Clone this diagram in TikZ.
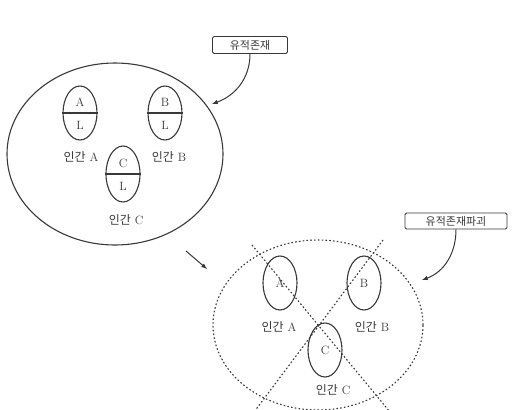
\documentclass[tikz,border=0pt]{standalone}
\usepackage{fontspec}
\usepackage{tikz}
\usetikzlibrary{shapes,arrows}
\usetikzlibrary{calc}
\newfontfamily\kr{Noto Sans CJK KR}
\definecolor{ink}{gray}{0.22}
\tikzset{
  person/.style={draw=ink,line width=1.1pt,ellipse,inner sep=0pt,minimum width=34pt,minimum height=54pt},
  world/.style={draw=ink,line width=1.1pt,ellipse,inner sep=0pt},
  broke/.style={line width=1.1pt,dash pattern=on 1.6pt off 2.2pt},
  tag/.style={draw=ink,line width=0.9pt,rounded corners=1.5pt,inner sep=0pt,font=\kr\fontsize{11}{13}\selectfont,text=ink},
  who/.style={font=\fontsize{12}{14}\selectfont,text=ink},
  letter/.style={font=\fontsize{12}{14}\selectfont,text=ink},
  pointer/.style={draw=ink,line width=1pt,-latex},
}

\begin{document}
\begin{tikzpicture}[x=1pt,y=-1pt]
        \useasboundingbox (0,0) rectangle (531,410);
        % before
        \node[world, minimum width=216pt, minimum height=182pt] (whole) at (115,154) {};
        \node[person] (pA) at (80,113) {};
        \node[person] (pB) at (165,113) {};
        \node[person, minimum height=56pt] (pC) at (123,174) {};
        \foreach \p/\l in {pA/A,pB/B,pC/C} {
            \draw[ink, line width=1.1pt] (\p.west) -- (\p.east);
            \node[letter] at ($(\p.center)+(0,-11)$) {\l};
            \node[letter] at ($(\p.center)+(0,12)$) {L};
        }
        \node[who] (nA) at (81,157) {{\kr 인간} A};
        \node[who] (nB) at (169,157) {{\kr 인간} B};
        \node[who] (nC) at (126,220) {{\kr 인간} C};
        \node[tag, minimum width=75pt, minimum height=17pt] (t1) at (250,45) {유적존재};
        \coordinate (h1) at (212,104);
        \draw[pointer] (t1.south) to[out=-90,in=20] (h1);

        % step
        \coordinate (s0) at (186,251);
        \coordinate (s1) at (207,269);
        \draw[pointer] (s0) -- (s1);

        % after
        \node[world, broke, minimum width=210pt, minimum height=170pt] (broken) at (318,325) {};
        \node[person] (qA) at (280,283) {};
        \node[person] (qB) at (364,283) {};
        \node[person] (qC) at (325,350) {};
        \node[letter] at (qA) {A};
        \node[letter] at (qB) {B};
        \node[letter] at (qC) {C};
        \coordinate (c1) at (252,245);
        \coordinate (c2) at (390,412);
        \coordinate (c3) at (383,240);
        \coordinate (c4) at (254,412);
        \draw[ink, broke] (c1) -- (c2);
        \draw[ink, broke] (c3) -- (c4);
        \node[who] (mA) at (279,327) {{\kr 인간} A};
        \node[who] (mB) at (372,327) {{\kr 인간} B};
        \node[who] (mC) at (333,390) {{\kr 인간} C};
        \node[tag, minimum width=102pt, minimum height=16pt] (t2) at (456,221) {유적존재파괴};
        \coordinate (h2) at (422,280);
        \draw[pointer] (t2.south) to[out=-90,in=20] (h2);
\end{tikzpicture}
\end{document}
